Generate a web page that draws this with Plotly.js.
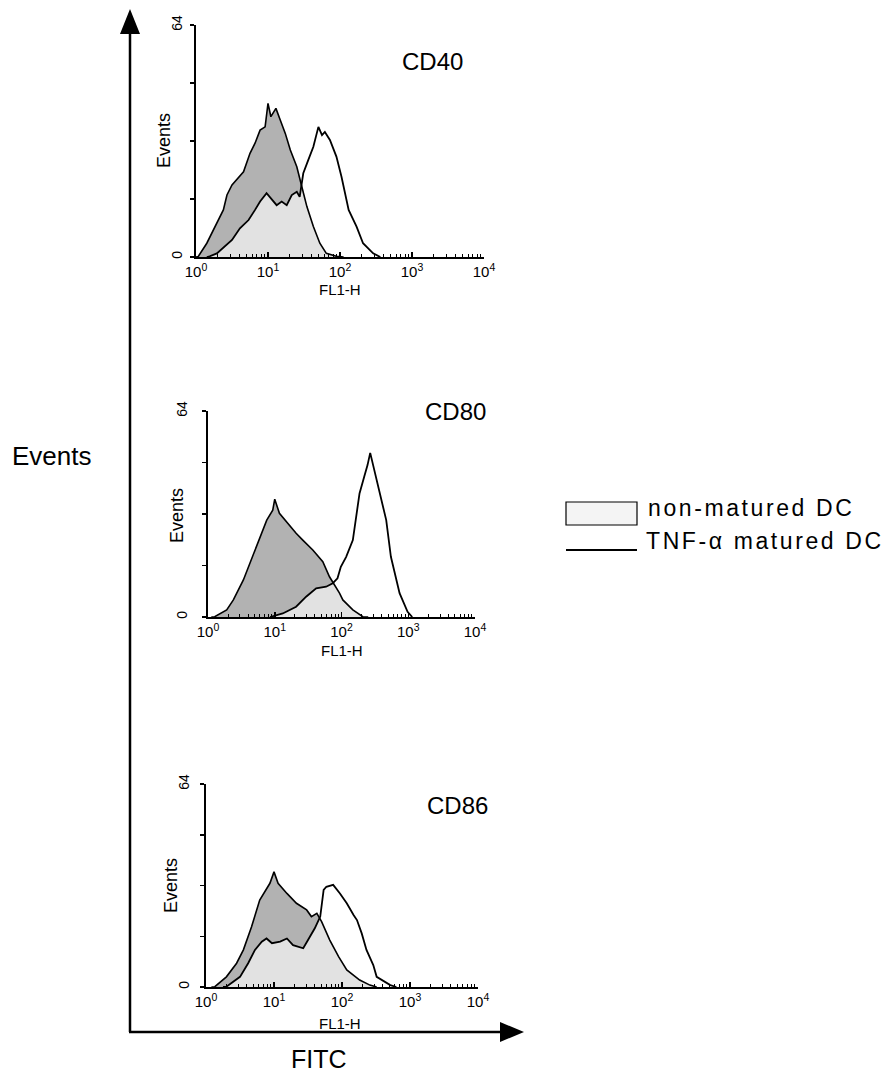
<!DOCTYPE html>
<html>
<head>
<meta charset="utf-8">
<script src="https://cdn.plot.ly/plotly-3.0.1.min.js"></script>
<style>
html,body{margin:0;padding:0;background:#fff;}
#chart{width:893px;height:1074px;}
</style>
</head>
<body>
<div id="chart"></div>
<script>
// ---- Data (x positions in decades of FL1-H, y = events) ----
const panelLabels = ['CD40', 'CD80', 'CD86'];
const seriesNames = ['non-matured DC', 'TNF-\u03b1 matured DC'];

const cd40NonMaturedDecade = [0.0, 0.03, 0.15, 0.26, 0.38, 0.43, 0.50, 0.66, 0.75, 0.82, 0.89, 0.96, 1.00, 1.04, 1.11, 1.17, 1.24, 1.31, 1.40, 1.47, 1.54, 1.63, 1.72, 1.81, 1.95, 2.05];
const cd40NonMaturedEvents = [0, 0.1, 3.8, 8.4, 13.0, 17.1, 19.9, 23.5, 28.6, 31.4, 35.0, 35.9, 42.4, 38.7, 41.0, 37.8, 34.1, 29.5, 24.9, 19.4, 13.9, 8.4, 3.8, 1.0, 0.2, 0];
const cd40MaturedDecade = [0.15, 0.19, 0.29, 0.40, 0.50, 0.61, 0.73, 0.82, 0.89, 0.98, 1.06, 1.12, 1.19, 1.26, 1.33, 1.40, 1.44, 1.49, 1.56, 1.63, 1.70, 1.75, 1.79, 1.86, 1.95, 2.02, 2.12, 2.23, 2.32, 2.46, 2.56];
const cd40MaturedEvents = [0, 0.2, 1.0, 2.8, 4.7, 7.9, 10.2, 13.0, 15.3, 17.6, 15.7, 14.3, 15.3, 14.3, 17.1, 18.0, 16.6, 23.1, 26.8, 30.4, 35.9, 33.6, 34.5, 32.3, 27.7, 22.2, 13.0, 8.4, 3.8, 1.0, 0];

const cd80NonMaturedDecade = [0.05, 0.10, 0.28, 0.38, 0.53, 0.65, 0.78, 0.88, 0.97, 1.00, 1.07, 1.17, 1.32, 1.42, 1.57, 1.72, 1.82, 1.97, 2.02, 2.17, 2.32, 2.40];
const cd80NonMaturedEvents = [0, 0.1, 2.2, 5.3, 11.5, 17.7, 24.9, 30.1, 33.2, 36.6, 32.2, 29.6, 26.0, 23.9, 20.8, 17.2, 12.5, 7.4, 5.3, 2.2, 0.1, 0];
const cd80MaturedDecade = [0.93, 1.12, 1.32, 1.47, 1.62, 1.77, 1.87, 1.94, 1.99, 2.07, 2.17, 2.27, 2.34, 2.39, 2.43, 2.49, 2.57, 2.67, 2.74, 2.87, 2.99, 3.06];
const cd80MaturedEvents = [0, 1.1, 3.2, 6.3, 8.9, 9.4, 10.5, 12.0, 15.6, 18.7, 23.9, 38.4, 43.6, 47.2, 51.0, 45.7, 38.4, 30.1, 18.7, 7.4, 1.6, 0];

const cd86NonMaturedDecade = [0.08, 0.13, 0.30, 0.45, 0.55, 0.67, 0.79, 0.94, 1.00, 1.06, 1.19, 1.33, 1.48, 1.55, 1.63, 1.70, 1.82, 1.95, 2.07, 2.26, 2.41, 2.51];
const cd86NonMaturedEvents = [0, 0.1, 3.2, 7.5, 11.7, 19.0, 27.4, 32.7, 36.3, 32.7, 29.5, 26.4, 24.3, 22.2, 23.2, 20.6, 14.8, 9.6, 5.4, 2.2, 0.6, 0];
const cd86MaturedDecade = [0.25, 0.30, 0.50, 0.62, 0.72, 0.82, 0.89, 0.97, 1.09, 1.19, 1.28, 1.43, 1.50, 1.60, 1.68, 1.73, 1.77, 1.87, 1.97, 2.07, 2.17, 2.22, 2.29, 2.36, 2.46, 2.51, 2.71, 2.80];
const cd86MaturedEvents = [0, 0.1, 3.2, 7.5, 11.7, 14.3, 15.3, 13.8, 14.3, 15.3, 13.2, 12.2, 14.8, 18.5, 22.2, 30.6, 31.6, 32.2, 29.5, 26.4, 22.7, 21.1, 16.9, 11.7, 6.9, 3.2, 0.6, 0];

const xTickVals = [1, 10, 100, 1000, 10000];
const xTickText = ['10<sup>0</sup>', '10<sup>1</sup>', '10<sup>2</sup>', '10<sup>3</sup>', '10<sup>4</sup>'];
const yTickVals = [0, 64];
const yTickText = ['0', '64'];
const yMinorTickVals = [16, 32, 48];
const xAxisTitle = 'FL1-H';
const yAxisTitle = 'Events';
const bigYTitle = 'Events';
const bigXTitle = 'FITC';

// ---- Layout geometry (pixels) ----
const W = 893, H = 1074;
const px = v => v / W;
const py = v => 1 - v / H;
const FONT = 'Liberation Sans, Arial, Helvetica, sans-serif';

const panels = [
  {nmX: cd40NonMaturedDecade, nmY: cd40NonMaturedEvents, mX: cd40MaturedDecade, mY: cd40MaturedEvents,
   x0: 196, x1: 484, yTop: 25, yBot: 257, label: [432, 61], xTitle: [340, 289], yTitle: [164, 141], yLabStand: 2},
  {nmX: cd80NonMaturedDecade, nmY: cd80NonMaturedEvents, mX: cd80MaturedDecade, mY: cd80MaturedEvents,
   x0: 208, x1: 475, yTop: 411, yBot: 617, label: [456, 412], xTitle: [342, 650], yTitle: [177, 516], yLabStand: 9},
  {nmX: cd86NonMaturedDecade, nmY: cd86NonMaturedEvents, mX: cd86MaturedDecade, mY: cd86MaturedEvents,
   x0: 206, x1: 478, yTop: 784, yBot: 987, label: [458, 805], xTitle: [340, 1023], yTitle: [171, 886], yLabStand: 5}
];

const minorVals = [];
for (let p = 1; p <= 1000; p *= 10) for (let k = 2; k <= 9; k++) minorVals.push(k * p);

const toLin = arr => arr.map(d => Math.pow(10, d));

const traces = [];
const layout = {
  width: W, height: H,
  margin: {l: 0, r: 0, t: 0, b: 0},
  paper_bgcolor: 'white', plot_bgcolor: 'rgba(0,0,0,0)',
  showlegend: false,
  font: {family: FONT, color: 'black'},
  shapes: [], annotations: []
};

panels.forEach((p, i) => {
  const sfx = i === 0 ? '' : String(i + 1);
  const xa = 'x' + sfx, ya = 'y' + sfx;
  // fills
  traces.push({type: 'scatter', mode: 'lines', x: toLin(p.nmX), y: p.nmY, xaxis: xa, yaxis: ya,
    fill: 'tozeroy', fillcolor: '#b2b2b2', line: {width: 0, color: 'rgba(0,0,0,0)'},
    name: seriesNames[0], hoverinfo: 'skip'});
  traces.push({type: 'scatter', mode: 'lines', x: toLin(p.mX), y: p.mY, xaxis: xa, yaxis: ya,
    fill: 'tozeroy', fillcolor: 'rgba(255,255,255,0.62)', line: {width: 0, color: 'rgba(0,0,0,0)'},
    name: seriesNames[1], hoverinfo: 'skip'});
  // outlines
  traces.push({type: 'scatter', mode: 'lines', x: toLin(p.nmX), y: p.nmY, xaxis: xa, yaxis: ya,
    line: {width: 1.6, color: 'black'}, name: seriesNames[0]});
  traces.push({type: 'scatter', mode: 'lines', x: toLin(p.mX), y: p.mY, xaxis: xa, yaxis: ya,
    line: {width: 1.8, color: 'black'}, name: seriesNames[1]});

  layout['xaxis' + sfx] = {
    domain: [px(p.x0), px(p.x1)], anchor: ya, type: 'log', range: [0, 4],
    showline: true, linewidth: 2, linecolor: 'black', showgrid: false, zeroline: false,
    ticks: 'inside', ticklen: 5, tickwidth: 1.5, tickcolor: 'black',
    tickmode: 'array', tickvals: xTickVals, ticktext: xTickText,
    tickfont: {family: FONT, size: 15, color: 'black'},
    minor: {tickmode: 'array', tickvals: minorVals, ticks: 'inside', ticklen: 3, tickwidth: 1, tickcolor: 'black'},
    fixedrange: true
  };
  layout['yaxis' + sfx] = {
    domain: [py(p.yBot), py(p.yTop)], anchor: xa, range: [0, 64],
    showline: true, linewidth: 2, linecolor: 'black', showgrid: false, zeroline: false,
    ticks: 'outside', ticklen: 4, tickwidth: 1.5, tickcolor: 'black',
    tickmode: 'array', tickvals: yTickVals, ticktext: yTickText, tickangle: -90,
    minor: {tickmode: 'array', tickvals: yMinorTickVals, ticks: 'outside', ticklen: 4, tickwidth: 1.5, tickcolor: 'black'},
    ticklabelstandoff: p.yLabStand,
    tickfont: {family: FONT, size: 14, color: 'black'},
    fixedrange: true
  };
  // axis titles
  layout.annotations.push({text: xAxisTitle, xref: 'paper', yref: 'paper',
    x: px(p.xTitle[0]), y: py(p.xTitle[1]), xanchor: 'center', yanchor: 'middle',
    showarrow: false, font: {family: FONT, size: 15, color: 'black'}});
  layout.annotations.push({text: yAxisTitle, xref: 'paper', yref: 'paper', textangle: -90,
    x: px(p.yTitle[0]), y: py(p.yTitle[1]), xanchor: 'center', yanchor: 'middle',
    showarrow: false, font: {family: FONT, size: 18, color: 'black'}});
  layout.annotations.push({text: panelLabels[i], xref: 'paper', yref: 'paper',
    x: px(p.label[0]), y: py(p.label[1]), xanchor: 'center', yanchor: 'middle',
    showarrow: false, font: {family: FONT, size: 24, color: 'black'}});
});

// big outer axes with arrows
const lineStyle = {color: 'black', width: 2.5};
layout.shapes.push({type: 'line', xref: 'paper', yref: 'paper', x0: px(130), x1: px(130), y0: py(1032), y1: py(25), line: lineStyle});
layout.shapes.push({type: 'line', xref: 'paper', yref: 'paper', x0: px(129), x1: px(505), y0: py(1032), y1: py(1032), line: lineStyle});
layout.shapes.push({type: 'path', xref: 'paper', yref: 'paper', fillcolor: 'black', line: {width: 0},
  path: `M ${px(120)} ${py(34)} L ${px(130)} ${py(9)} L ${px(140)} ${py(34)} Z`});
layout.shapes.push({type: 'path', xref: 'paper', yref: 'paper', fillcolor: 'black', line: {width: 0},
  path: `M ${px(500)} ${py(1022)} L ${px(524)} ${py(1032)} L ${px(500)} ${py(1042)} Z`});

layout.annotations.push({text: bigYTitle, xref: 'paper', yref: 'paper', x: px(52), y: py(456),
  xanchor: 'center', yanchor: 'middle', showarrow: false, font: {family: FONT, size: 26, color: 'black'}});
layout.annotations.push({text: bigXTitle, xref: 'paper', yref: 'paper', x: px(319), y: py(1059),
  xanchor: 'center', yanchor: 'middle', showarrow: false, font: {family: FONT, size: 25, color: 'black'}});

// legend (custom)
layout.shapes.push({type: 'rect', xref: 'paper', yref: 'paper', x0: px(566), x1: px(637), y0: py(525), y1: py(502),
  fillcolor: '#f4f4f4', line: {color: 'black', width: 1.2}});
layout.shapes.push({type: 'line', xref: 'paper', yref: 'paper', x0: px(566), x1: px(637), y0: py(550), y1: py(550),
  line: {color: 'black', width: 1.8}});
layout.annotations.push({text: seriesNames[0], xref: 'paper', yref: 'paper', x: px(646), y: py(508),
  xanchor: 'left', yanchor: 'middle', align: 'left', showarrow: false, font: {family: FONT, size: 23, color: 'black'}});
layout.annotations.push({text: seriesNames[1], xref: 'paper', yref: 'paper', x: px(644), y: py(541),
  xanchor: 'left', yanchor: 'middle', align: 'left', showarrow: false, font: {family: FONT, size: 23, color: 'black'}});

Plotly.newPlot('chart', traces, layout, {staticPlot: true, displayModeBar: false}).then(() => {
  // the reference legend lettering is widely spaced
  const n = layout.annotations.length;
  document.querySelectorAll('#chart g.annotation').forEach(g => {
    const idx = +g.getAttribute('data-index');
    if (idx >= n - 2) g.querySelectorAll('text').forEach(t => {
      t.style.letterSpacing = '2.6px';
      t.setAttribute('text-anchor', 'start');
    });
  });
});
</script>
</body>
</html>
